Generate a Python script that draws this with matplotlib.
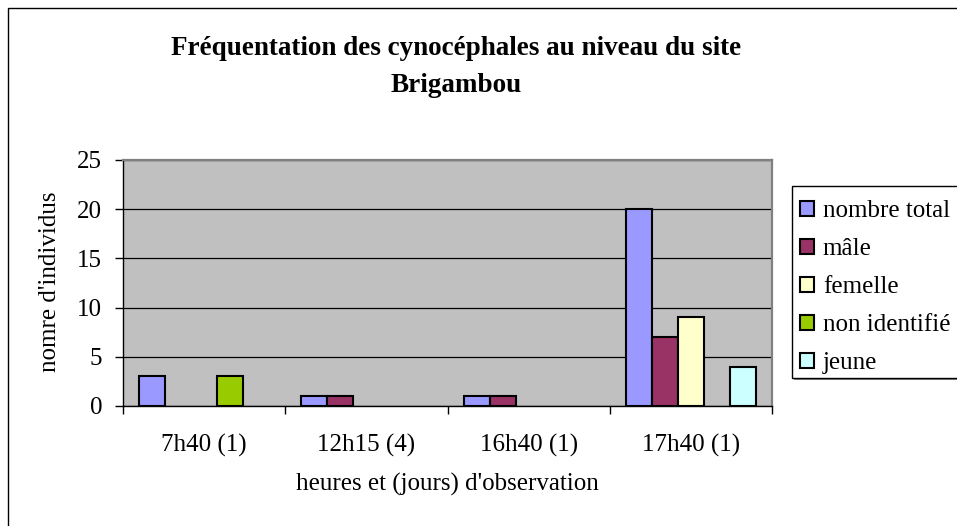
import matplotlib
matplotlib.use("Agg")
import matplotlib.pyplot as plt
import matplotlib.patches as mpatches
import numpy as np

plt.rcParams['font.family'] = ['Liberation Serif', 'DejaVu Serif']

# observation slots and counts per group
heures = ['7h40 (1)', '12h15 (4)', '16h40 (1)', '17h40 (1)']
series_names = ['nombre total', 'mâle', 'femelle', 'non identifié', 'jeune']
nombre_total = [3, 1, 1, 20]
male = [0, 1, 1, 7]
femelle = [0, 0, 0, 9]
non_identifie = [3, 0, 0, 0]
jeune = [0, 0, 0, 4]
couleurs = ['#9999FF', '#993366', '#FFFFCC', '#99CC00', '#CCFFFF']

W, H = 957, 526
fig = plt.figure(figsize=(W / 100, H / 100), dpi=100)
ax = fig.add_axes([123 / W, 1 - 406 / H, (772 - 123) / W, (406 - 160) / H])
ax.set_facecolor('#C0C0C0')

x = np.arange(len(heures))
bw = 0.16
all_series = [nombre_total, male, femelle, non_identifie, jeune]
for i, (vals, name, col) in enumerate(zip(all_series, series_names, couleurs)):
    # empty counts are not drawn at all
    h = np.array(vals, dtype=float)
    h[h == 0] = np.nan
    ax.bar(x + (i - 2) * bw, h, width=bw, color=col, edgecolor='black',
           linewidth=1.5, label=name, zorder=3)

ax.set_xlim(-0.5, 3.5)
ax.set_ylim(0, 25)
ax.set_yticks(range(0, 26, 5))
ax.yaxis.grid(True, color='black', linewidth=0.9, zorder=1)
ax.set_axisbelow(True)

# category boundaries carry the tick marks, labels sit in between
ax.set_xticks(np.arange(-0.5, 4, 1))
ax.set_xticklabels([])
ax.set_xticks(x, minor=True)
ax.set_xticklabels(heures, minor=True, fontsize=18)
ax.tick_params(axis='x', which='major', length=6, width=1, direction='out')
ax.tick_params(axis='x', which='minor', length=0, pad=20)
ax.tick_params(axis='y', length=6, width=1, pad=9, labelsize=18)

for s in ['left', 'bottom']:
    ax.spines[s].set_color('black')
    ax.spines[s].set_linewidth(1)
for s in ['top', 'right']:
    ax.spines[s].set_color('#808080')
    ax.spines[s].set_linewidth(1.6)

fig.text(456.5 / W, 1 - 67 / H,
         'Fréquentation des cynocéphales au niveau du site\nBrigambou',
         ha='center', va='center', fontsize=19.5, fontweight='bold',
         linespacing=1.6)
fig.text(50 / W, 1 - 282 / H, "nomre d'individus", rotation=90,
         ha='center', va='center', fontsize=18)
fig.text(447.5 / W, 1 - 484 / H, "heures et (jours) d'observation",
         ha='center', va='center', fontsize=18)

# legend box with a grey drop shadow, drawn separately from the entries
fig.patches.append(mpatches.Rectangle((794 / W, (H - 380) / H), 200 / W, 192 / H,
                                      transform=fig.transFigure,
                                      facecolor='#808080', edgecolor='none'))
fig.patches.append(mpatches.Rectangle((792 / W, (H - 378) / H), 200 / W, 192 / H,
                                      transform=fig.transFigure,
                                      facecolor='white', edgecolor='black',
                                      linewidth=1))
leg = fig.legend(loc='upper left', bbox_to_anchor=(800 / W, 1 - 200 / H),
                 borderaxespad=0, borderpad=0, fontsize=18, handlelength=0.55,
                 handleheight=0.55, handletextpad=0.36, labelspacing=0.64,
                 frameon=False)
for p in leg.get_patches():
    p.set_linewidth(1.5)

# outer chart border
fig.patches.append(mpatches.Rectangle((8 / W, -0.5), 2, 0.5 + 1 - 8 / H,
                                      transform=fig.transFigure, fill=False,
                                      edgecolor='black', linewidth=1))

fig.savefig('out.png', dpi=100)
